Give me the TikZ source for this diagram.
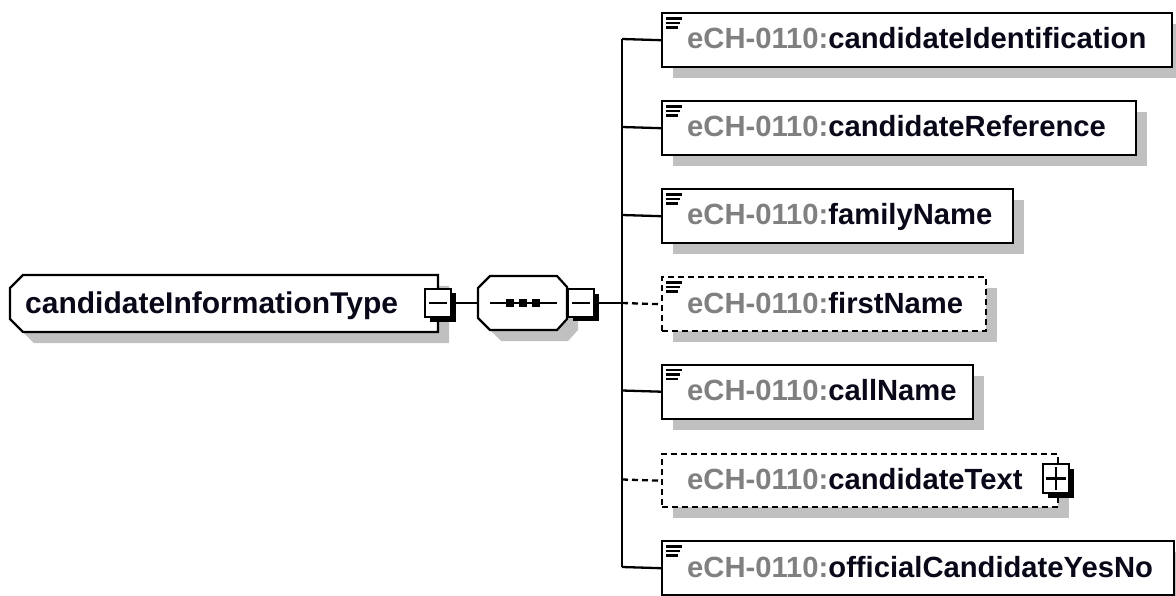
\documentclass[tikz,border=0pt]{standalone}
\usepackage{fontspec}
\setmainfont{Liberation Sans}
\usetikzlibrary{shadows}
\definecolor{shgray}{RGB}{192,192,192}
\definecolor{ecgray}{RGB}{128,128,128}
\definecolor{txt}{RGB}{8,8,24}
\tikzset{
  elem/.style={draw=black, line width=2.4pt, fill=white, rectangle, inner sep=0pt,
    minimum height=54pt, anchor=north west,
    drop shadow={shadow xshift=11pt,shadow yshift=-11pt,fill=shgray,opacity=1}},
  optelem/.style={elem, dash pattern=on 6pt off 4pt},
  lbl/.style={anchor=base west, inner sep=0pt, font=\bfseries\fontsize{29.2}{35}\selectfont, text=txt},
  rootlbl/.style={lbl, font=\bfseries\fontsize{30}{36}\selectfont},
  pmbox/.style={draw=black, line width=2pt, fill=white, inner sep=0pt,
    minimum width=26pt, minimum height=28pt,
    drop shadow={shadow xshift=4.5pt,shadow yshift=-4.5pt,fill=black,opacity=1}},
  conn/.style={line width=2.3pt},
  optconn/.style={conn, dash pattern=on 6pt off 4pt},
  pics/doclines/.style={code={\draw[line width=2.8pt] (5,6.5)--(21,6.5) (5,11)--(19,11) (5,15.5)--(17,15.5);}}
}
\begin{document}
\begin{tikzpicture}[x=1pt,y=-1pt]
\clip (0,0) rectangle (1176,596);
\fill[white] (0,0) rectangle (1176,596);

% root box
\begin{scope}[shift={(11,11)}]
\fill[shgray] (23,275) -- (438,275) -- (438,332) -- (23,332) -- (10,319) -- (10,288) -- cycle;
\end{scope}
\draw[line width=2.2pt, fill=white] (23,275) -- (438,275) -- (438,332) -- (23,332) -- (10,319) -- (10,288) -- cycle;
\node[rootlbl] (root) at (25,313) {candidateInformationType};
\node[pmbox] (m1) at (438,303) {};
\draw[line width=2.2pt] ([xshift=5pt]m1.west) -- ([xshift=-5pt]m1.east);

% sequence compositor
\begin{scope}[shift={(11,11)}]
\fill[shgray] (490,276) -- (557,276) -- (567,287) -- (567,319) -- (557,330) -- (490,330) -- (478,318) -- (478,288) -- cycle;
\end{scope}
\draw[line width=2.2pt, fill=white] (490,276) -- (557,276) -- (567,287) -- (567,319) -- (557,330) -- (490,330) -- (478,318) -- (478,288) -- cycle;
\coordinate (sqL) at (478,303);
\coordinate (sqIL) at (490,303);
\coordinate (sqIR) at (557,303);
\draw[line width=2.2pt] (sqIL) -- (sqIR);
\foreach \cx in {510,523,536} \fill[black] (\cx-4,299) rectangle (\cx+4,307);
\draw[conn] (m1.east) -- (sqL);
\node[pmbox, minimum height=27pt] (m2) at (581,303) {};
\draw[line width=2.2pt] ([xshift=5pt]m2.west) -- ([xshift=-5pt]m2.east);

% bus
\coordinate (b1) at (622,39);
\coordinate (b2) at (622,127);
\coordinate (b3) at (622,215);
\coordinate (b4) at (622,303);
\coordinate (b5) at (622,390.5);
\coordinate (b6) at (622,479.5);
\coordinate (b7) at (622,567);
\draw[conn] (b1) -- (b7);
\draw[conn] (m2.east) -- (b4);

% elements
\node[elem, minimum width=510pt] (e1) at (661,12) {};
\node[elem, minimum width=474pt] (e2) at (661,100) {};
\node[elem, minimum width=351pt] (e3) at (661,188) {};
\node[optelem, minimum width=324pt] (e4) at (661,276) {};
\node[elem, minimum width=311pt] (e5) at (661,363.5) {};
\node[optelem, minimum width=396pt, minimum height=53pt] (e6) at (661,453) {};
\node[elem, minimum width=512pt] (e7) at (661,540) {};

\draw[conn] (b1) -- (e1.west);
\draw[conn] (b2) -- (e2.west);
\draw[conn] (b3) -- (e3.west);
\draw[optconn] (b4) -- (e4.west);
\draw[conn] (b5) -- (e5.west);
\draw[optconn] (b6) -- (e6.west);
\draw[conn] (b7) -- (e7.west);

\pic at (661,12) {doclines};
\pic at (661,100) {doclines};
\pic at (661,188) {doclines};
\pic at (661,276) {doclines};
\pic at (661,363.5) {doclines};
\pic at (661,540) {doclines};

\node[lbl] (t1) at (687,49) {\textcolor{ecgray}{eCH-0110:}candidateIdentification};
\node[lbl] (t2) at (687,137) {\textcolor{ecgray}{eCH-0110:}candidateReference};
\node[lbl] (t3) at (687,225) {\textcolor{ecgray}{eCH-0110:}familyName};
\node[lbl] (t4) at (687,313) {\textcolor{ecgray}{eCH-0110:}firstName};
\node[lbl] (t5) at (687,400.5) {\textcolor{ecgray}{eCH-0110:}callName};
\node[lbl] (t6) at (687,489.5) {\textcolor{ecgray}{eCH-0110:}candidateText};
\node[lbl] (t7) at (687,577) {\textcolor{ecgray}{eCH-0110:}officialCandidateYesNo};

% expand box
\node[pmbox, minimum height=29pt] (p6) at (1056,478.5) {};
\draw[line width=2.2pt] ([xshift=4pt]p6.west) -- ([xshift=-4pt]p6.east);
\draw[line width=2.2pt] ([yshift=-4pt]p6.north) -- ([yshift=4pt]p6.south);
\end{tikzpicture}
\end{document}
